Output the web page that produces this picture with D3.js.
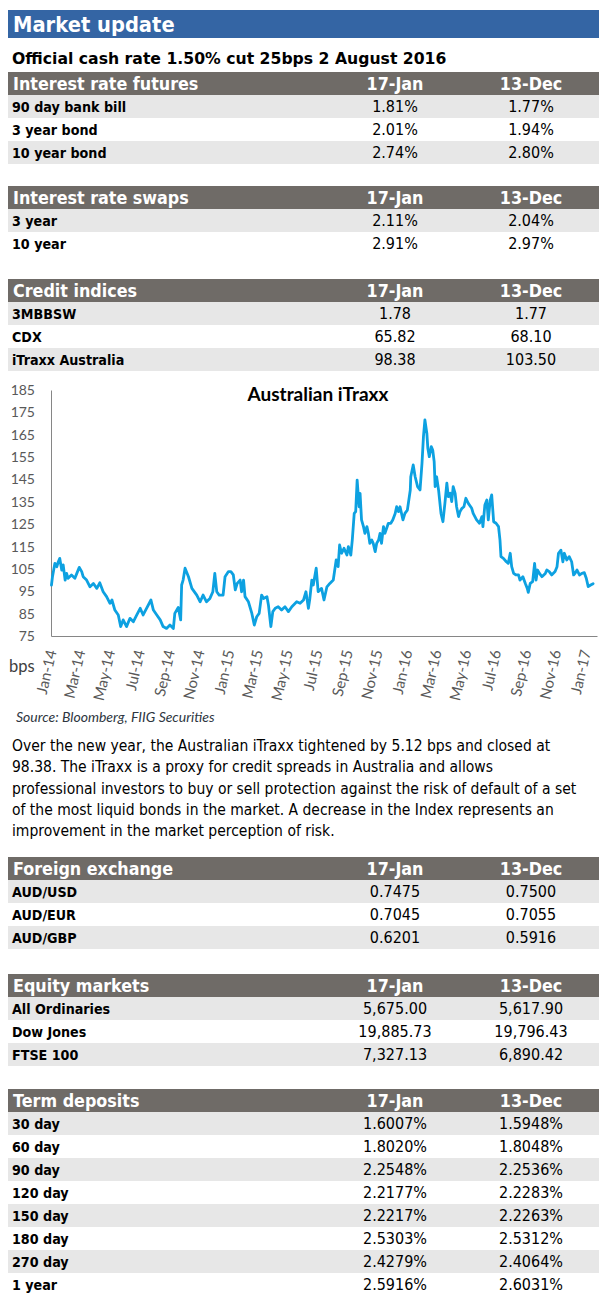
<!DOCTYPE html>
<html><head><meta charset="utf-8">
<script src="https://cdn.jsdelivr.net/npm/d3@7"></script>
<style>body{margin:0;background:#fff} svg{display:block}</style>
</head><body>
<svg id="c" width="606" height="1300"></svg>
<script>
// ---------- DATA ----------
const pageTitle = "Market update";
const subTitle = "Official cash rate 1.50% cut 25bps 2 August 2016";
const columnHeads = ["17-Jan", "13-Dec"];

const futuresLabels = ["90 day bank bill", "3 year bond", "10 year bond"];
const futuresJan = ["1.81%", "2.01%", "2.74%"];
const futuresDec = ["1.77%", "1.94%", "2.80%"];

const swapsLabels = ["3 year", "10 year"];
const swapsJan = ["2.11%", "2.91%"];
const swapsDec = ["2.04%", "2.97%"];

const creditLabels = ["3MBBSW", "CDX", "iTraxx Australia"];
const creditJan = ["1.78", "65.82", "98.38"];
const creditDec = ["1.77", "68.10", "103.50"];

const fxLabels = ["AUD/USD", "AUD/EUR", "AUD/GBP"];
const fxJan = ["0.7475", "0.7045", "0.6201"];
const fxDec = ["0.7500", "0.7055", "0.5916"];

const equityLabels = ["All Ordinaries", "Dow Jones", "FTSE 100"];
const equityJan = ["5,675.00", "19,885.73", "7,327.13"];
const equityDec = ["5,617.90", "19,796.43", "6,890.42"];

const termLabels = ["30 day", "60 day", "90 day", "120 day", "150 day", "180 day", "270 day", "1 year"];
const termJan = ["1.6007%", "1.8020%", "2.2548%", "2.2177%", "2.2217%", "2.5303%", "2.4279%", "2.5916%"];
const termDec = ["1.5948%", "1.8048%", "2.2536%", "2.2283%", "2.2263%", "2.5312%", "2.4064%", "2.6031%"];

const chartTitle = "Australian iTraxx";
const yUnit = "bps";
const sourceNote = "Source: Bloomberg, FIIG Securities";
const yTicks = [75, 85, 95, 105, 115, 125, 135, 145, 155, 165, 175, 185];
const xTickDates = ["2014-01-01","2014-03-01","2014-05-01","2014-07-01","2014-09-01","2014-11-01",
  "2015-01-01","2015-03-01","2015-05-01","2015-07-01","2015-09-01","2015-11-01",
  "2016-01-01","2016-03-01","2016-05-01","2016-07-01","2016-09-01","2016-11-01","2017-01-01"];

const itraxx2014 = [["2014-01-02",97.8],["2014-01-04",101.5],["2014-01-09",107.5],["2014-01-13",106],["2014-01-16",108.2],["2014-01-19",109.7],["2014-01-23",104.5],["2014-01-26",106.8],["2014-01-30",100],["2014-02-02",103],["2014-02-05",100.8],["2014-02-12",102.3],["2014-02-19",100.8],["2014-02-23",103],["2014-02-28",105.7],["2014-03-05",103.8],["2014-03-08",101.5],["2014-03-15",100],["2014-03-22",97],["2014-03-29",98.5],["2014-04-05",96.3],["2014-04-11",98.8],["2014-04-18",94.8],["2014-04-25",92.6],["2014-05-02",89.6],["2014-05-06",91.1],["2014-05-12",86.6],["2014-05-19",84.4],["2014-05-24",79.2],["2014-05-29",82.2],["2014-06-05",79.2],["2014-06-12",82.9],["2014-06-19",81.4],["2014-06-26",84.4],["2014-07-03",87.4],["2014-07-09",84.4],["2014-07-16",87.4],["2014-07-25",91.1],["2014-07-30",86.6],["2014-08-06",84.4],["2014-08-13",82.2],["2014-08-19",79.2],["2014-08-26",78.4],["2014-09-02",79.9],["2014-09-09",78.4],["2014-09-12",85.1],["2014-09-19",87.8],["2014-09-24",82.2],["2014-09-26",97.8],["2014-09-29",100],["2014-10-03",105.3],["2014-10-10",101.5],["2014-10-17",96.3],["2014-10-27",93.3],["2014-11-03",90.3],["2014-11-09",93.3],["2014-11-16",90.3],["2014-11-23",91.8],["2014-11-29",94.8],["2014-12-03",103],["2014-12-07",94.8],["2014-12-12",93.3],["2014-12-20",93.3],["2014-12-24",101.5],["2014-12-31",103.8]];

const itraxx2015 = [["2015-01-05",103.8],["2015-01-10",102.3],["2015-01-14",95.6],["2015-01-18",98.5],["2015-01-24",100],["2015-01-27",94.8],["2015-01-31",100],["2015-02-03",92.6],["2015-02-10",90.3],["2015-02-17",85.1],["2015-02-22",79.9],["2015-02-27",83.6],["2015-03-04",85.1],["2015-03-09",93.3],["2015-03-13",91.8],["2015-03-20",92.6],["2015-03-23",88.9],["2015-03-28",79.2],["2015-04-01",85.9],["2015-04-06",87.4],["2015-04-12",88.1],["2015-04-19",86.6],["2015-04-26",88.1],["2015-05-03",85.9],["2015-05-10",88.1],["2015-05-20",90.3],["2015-05-27",89.6],["2015-06-03",91.1],["2015-06-08",94.8],["2015-06-13",87.4],["2015-06-16",91.8],["2015-06-20",100],["2015-06-23",97.8],["2015-06-29",105.3],["2015-07-03",94.8],["2015-07-10",96.3],["2015-07-15",91.1],["2015-07-21",97],["2015-07-27",98.5],["2015-08-03",100],["2015-08-09",109],["2015-08-13",106],["2015-08-16",115.7],["2015-08-20",112],["2015-08-25",114.2],["2015-08-31",111.2],["2015-09-03",115],["2015-09-08",111.2],["2015-09-11",117.9],["2015-09-15",129.8],["2015-09-18",130.6],["2015-09-21",144.7],["2015-09-25",132.8],["2015-09-27",138.8],["2015-09-30",126.9],["2015-10-04",123.9],["2015-10-07",120.9],["2015-10-11",123.9],["2015-10-14",120.9],["2015-10-17",116.4],["2015-10-21",117.9],["2015-10-24",116.4],["2015-10-28",112.7],["2015-10-31",116.4],["2015-11-04",117.9],["2015-11-07",120.9],["2015-11-10",116.4],["2015-11-14",123.9],["2015-11-17",120.9],["2015-11-24",125.4],["2015-11-29",125.4],["2015-12-03",126.9],["2015-12-08",129.8],["2015-12-11",132.8],["2015-12-15",130.6],["2015-12-18",132.8],["2015-12-24",126.9],["2015-12-28",129.8]];

const itraxx2016 = [["2016-01-02",131.3],["2016-01-08",140.3],["2016-01-09",146.2],["2016-01-14",151.5],["2016-01-18",146.2],["2016-01-23",141.8],["2016-01-28",140.3],["2016-02-01",152.2],["2016-02-04",164.1],["2016-02-07",171.6],["2016-02-11",165.6],["2016-02-13",158.9],["2016-02-16",155.2],["2016-02-20",159.7],["2016-02-23",158.2],["2016-02-26",153],["2016-02-28",141.8],["2016-03-02",146.2],["2016-03-06",140.3],["2016-03-11",129.8],["2016-03-15",126.1],["2016-03-19",134.3],["2016-03-23",143.3],["2016-03-26",137.3],["2016-03-30",138.8],["2016-04-02",135.1],["2016-04-05",141.8],["2016-04-09",138.8],["2016-04-12",132.8],["2016-04-16",128.4],["2016-04-19",130.6],["2016-04-23",132.1],["2016-04-27",132.8],["2016-05-01",136.6],["2016-05-06",134.3],["2016-05-13",132.1],["2016-05-16",129.8],["2016-05-23",126.9],["2016-05-29",125.4],["2016-06-03",128.4],["2016-06-05",123.9],["2016-06-09",133.6],["2016-06-13",135.8],["2016-06-16",126.9],["2016-06-20",135.8],["2016-06-23",138.1],["2016-06-27",126.1],["2016-07-02",125.4],["2016-07-07",123.9],["2016-07-10",117.9],["2016-07-12",110.5],["2016-07-17",109.7],["2016-07-23",108.2],["2016-07-27",107.5],["2016-07-31",112],["2016-08-03",106],["2016-08-07",103],["2016-08-12",102.3],["2016-08-17",102.3],["2016-08-20",100],["2016-08-26",101.5],["2016-08-31",98.5],["2016-09-04",96.3],["2016-09-06",94.5],["2016-09-10",98.5],["2016-09-15",99.3],["2016-09-19",107.5],["2016-09-22",100],["2016-09-25",104.5],["2016-09-29",103],["2016-10-04",101.5],["2016-10-11",103],["2016-10-14",104.5],["2016-10-19",103.8],["2016-10-24",102.3],["2016-10-31",103.8],["2016-11-04",106],["2016-11-07",112],["2016-11-12",113.4],["2016-11-16",108.2],["2016-11-19",112],["2016-11-24",109],["2016-11-29",110.5],["2016-12-04",108.2],["2016-12-08",102.3],["2016-12-11",103],["2016-12-15",104.5],["2016-12-20",102.3],["2016-12-25",103],["2016-12-30",103.3]];

const itraxx2017 = [["2017-01-03",100.8],["2017-01-07",97.1],["2017-01-12",97.8],["2017-01-17",98.4]];

const paragraphLines = [
  "Over the new year, the Australian iTraxx tightened by 5.12 bps and closed at",
  "98.38. The iTraxx is a proxy for credit spreads in Australia and allows",
  "professional investors to buy or sell protection against the risk of default of a set",
  "of the most liquid bonds in the market. A decrease in the Index represents an",
  "improvement in the market perception of risk."
];

// ---------- LAYOUT ----------
const svg = d3.select("#c");
const L = 8, R = 599, W = R - L;
const colA = 395, colB = 531;
const ROW = 23;
const SANS = "'DejaVu Sans', Verdana, sans-serif";
const CAL = "Lato, 'Open Sans', sans-serif";

function txt(parent, s, x, y, o) {
  o = o || {};
  return parent.append("text")
    .attr("transform", `translate(${x},${y}) scale(${o.sx || 1},1)`)
    .attr("font-family", o.family || SANS)
    .attr("font-size", o.size || 14)
    .attr("font-weight", o.weight || "normal")
    .attr("font-style", o.style || "normal")
    .attr("text-anchor", o.anchor || "start")
    .attr("fill", o.fill || "#000")
    .text(s);
}

// title bar
svg.append("rect").attr("x", L).attr("y", 10).attr("width", W).attr("height", 28).attr("fill", "#3465A4");
txt(svg, pageTitle, 13, 31.5, {size: 21, weight: "bold", fill: "#fff", sx: 0.93});
txt(svg, subTitle, 12, 63.5, {size: 16.5, weight: "bold", sx: 0.95});

function drawTable(title, labels, a, b, top) {
  const g = svg.append("g");
  g.append("rect").attr("x", L).attr("y", top).attr("width", W).attr("height", ROW).attr("fill", "#6F6B67");
  txt(g, title, 13, top + 17.5, {size: 17, weight: "bold", fill: "#fff", sx: 0.94});
  txt(g, columnHeads[0], colA, top + 17.5, {size: 17, weight: "bold", fill: "#fff", anchor: "middle", sx: 0.94});
  txt(g, columnHeads[1], colB, top + 17.5, {size: 17, weight: "bold", fill: "#fff", anchor: "middle", sx: 0.94});
  labels.forEach((lab, i) => {
    const y0 = top + ROW * (i + 1);
    if (i % 2 === 0) g.append("rect").attr("x", L).attr("y", y0).attr("width", W).attr("height", ROW).attr("fill", "#E7E7E7");
    txt(g, lab, 12, y0 + 16.5, {size: 14.5, weight: "bold", sx: 0.88});
    txt(g, a[i], colA, y0 + 17, {size: 16, anchor: "middle", sx: 0.9});
    txt(g, b[i], colB, y0 + 17, {size: 16, anchor: "middle", sx: 0.9});
  });
}

drawTable("Interest rate futures", futuresLabels, futuresJan, futuresDec, 72);
drawTable("Interest rate swaps", swapsLabels, swapsJan, swapsDec, 186);
drawTable("Credit indices", creditLabels, creditJan, creditDec, 279);
drawTable("Foreign exchange", fxLabels, fxJan, fxDec, 857);
drawTable("Equity markets", equityLabels, equityJan, equityDec, 974);
drawTable("Term deposits", termLabels, termJan, termDec, 1089);

// ---------- CHART ----------
const parse = d3.timeParse("%Y-%m-%d");
const series = [].concat(itraxx2014, itraxx2015, itraxx2016, itraxx2017)
  .map(d => ({date: parse(d[0]), value: d[1]}));

const x = d3.scaleTime().domain([parse("2014-01-01"), parse("2017-01-25")]).range([51, 597]);
const y = d3.scaleLinear().domain([75, 185]).range([636, 390]);

const cg = svg.append("g");
const yAxis = cg.append("g").attr("transform", "translate(51,0)")
  .call(d3.axisLeft(y).tickValues(yTicks).tickSize(0).tickPadding(16).tickSizeOuter(0));
yAxis.select(".domain").attr("stroke", "#868686").attr("stroke-width", 1);
yAxis.selectAll("text").attr("font-family", CAL).attr("font-size", 14).attr("fill", "#595959");

const xAxis = cg.append("g").attr("transform", "translate(0,636)")
  .call(d3.axisBottom(x).tickValues(xTickDates.map(parse)).tickSize(0).tickSizeOuter(0)
    .tickFormat(d3.timeFormat("%b-%y")));
xAxis.select(".domain").attr("stroke", "#868686").attr("stroke-width", 1);
xAxis.selectAll("text")
  .attr("y", null).attr("dy", "0.35em")
  .attr("transform", "translate(0,14) rotate(-77)")
  .attr("text-anchor", "end")
  .attr("font-family", CAL).attr("font-size", 15).attr("fill", "#595959");

cg.append("path").datum(series)
  .attr("fill", "none").attr("stroke", "#0DA1E1").attr("stroke-width", 2.8)
  .attr("stroke-linejoin", "round").attr("stroke-linecap", "round")
  .attr("d", d3.line().x(d => x(d.date)).y(d => y(d.value)));

txt(cg, chartTitle, 318, 401, {family: CAL, size: 19, weight: "bold", anchor: "middle"});
txt(cg, yUnit, 9, 672, {family: CAL, size: 16.5, fill: "#404040"});
txt(svg, sourceNote, 16, 722, {family: CAL, size: 14, style: "italic", fill: "#2D3540"});

// ---------- PARAGRAPH ----------
paragraphLines.forEach((s, i) => {
  txt(svg, s, 12, 751 + i * 21.3, {size: 15.5, sx: 0.9});
});
</script>
</body></html>
